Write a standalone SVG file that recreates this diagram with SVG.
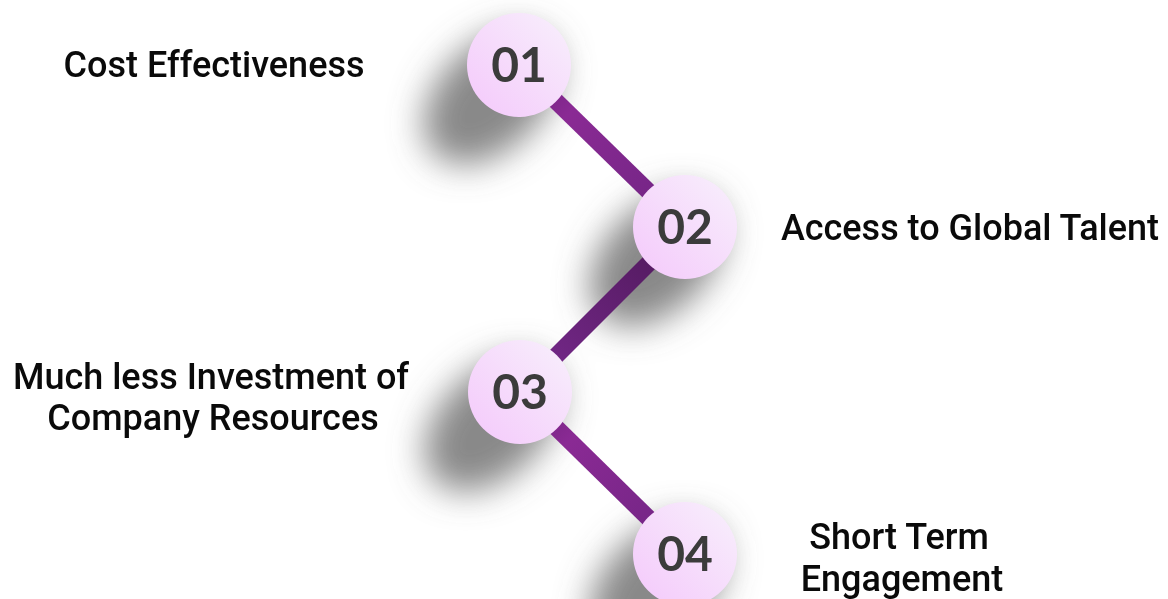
<svg xmlns="http://www.w3.org/2000/svg" width="1168" height="599" viewBox="0 0 1168 599">
  <defs>
    <linearGradient id="bubble" x1="0" y1="1" x2="1" y2="0">
      <stop offset="0" stop-color="#f4c8fb"/>
      <stop offset="1" stop-color="#f8f0fc"/>
    </linearGradient>
    <linearGradient id="barA" x1="0" y1="0" x2="1" y2="1">
      <stop offset="0" stop-color="#6a1f78"/>
      <stop offset="0.3" stop-color="#8a2a94"/>
      <stop offset="1" stop-color="#6f2482"/>
    </linearGradient>
    <linearGradient id="barB" x1="1" y1="0" x2="0" y2="1">
      <stop offset="0" stop-color="#4d1858"/>
      <stop offset="1" stop-color="#7a2a90"/>
    </linearGradient>
    <filter id="haze" x="-100%" y="-100%" width="300%" height="300%">
      <feGaussianBlur stdDeviation="17"/>
    </filter>
    <!-- long soft shadow falling to the lower left of each bubble -->
    <ellipse id="cast" cx="-28" cy="32" rx="80" ry="52" transform="rotate(-45 -28 32)" fill="#6a6a6a" opacity="0.8"/>
    <style>
      .num { font-family: Lato, "Open Sans", sans-serif; font-weight: 700; font-size: 48px; fill: #3b3b3b; text-anchor: middle; }
      .lbl { font-family: Roboto, "Liberation Sans", sans-serif; font-weight: 500; font-size: 36px; fill: #0a0a0a; text-anchor: middle; }
      .bar { stroke-width: 17; stroke-linecap: butt; fill: none; }
    </style>
  </defs>
  <rect width="1168" height="599" fill="#ffffff"/>

  <!-- shadows -->
  <g filter="url(#haze)">
    <use href="#cast" x="519" y="65"/>
    <use href="#cast" x="685" y="227"/>
    <use href="#cast" x="520" y="392"/>
    <use href="#cast" x="685" y="554"/>
  </g>

  <g id="connectors">
    <line class="bar" x1="519" y1="65" x2="685" y2="227" stroke="url(#barA)"/>
    <line class="bar" x1="685" y1="227" x2="520" y2="392" stroke="url(#barB)"/>
    <line class="bar" x1="520" y1="392" x2="685" y2="554" stroke="url(#barA)"/>
  </g>

  <g id="node1">
    <circle cx="519" cy="65" r="52" fill="url(#bubble)"/>
    <text class="num" x="519" y="82">01</text>
    <text class="lbl" x="214" y="77">Cost Effectiveness</text>
  </g>
  <g id="node2">
    <circle cx="685" cy="227" r="52" fill="url(#bubble)"/>
    <text class="num" x="685" y="244">02</text>
    <text class="lbl" x="970" y="240">Access to Global Talent</text>
  </g>
  <g id="node3">
    <circle cx="520" cy="392" r="52" fill="url(#bubble)"/>
    <text class="num" x="520" y="409">03</text>
    <text class="lbl" x="211" y="389">Much less Investment of</text>
    <text class="lbl" x="213" y="430">Company Resources</text>
  </g>
  <g id="node4">
    <circle cx="685" cy="554" r="52" fill="url(#bubble)"/>
    <text class="num" x="685" y="571">04</text>
    <text class="lbl" x="899" y="549">Short Term</text>
    <text class="lbl" x="902" y="591">Engagement</text>
  </g>
</svg>
